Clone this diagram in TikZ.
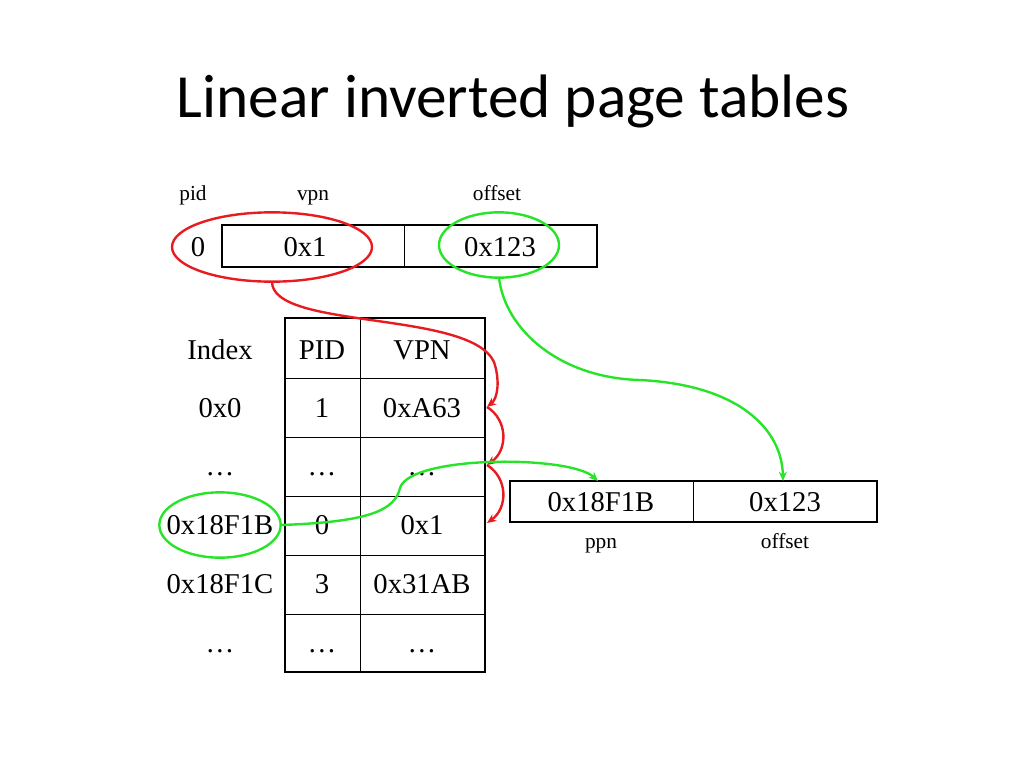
\documentclass[tikz,border=0pt]{standalone}
\usepackage{fontspec}
\setmainfont{Liberation Serif}
\newfontfamily\titlefont{Carlito}
\usetikzlibrary{shapes.geometric, arrows.meta}
\definecolor{ringred}{RGB}{232,28,32}
\definecolor{ringgreen}{RGB}{40,228,40}

\begin{document}
\begin{tikzpicture}[x=0.75pt, y=-0.75pt, >={Stealth[length=7pt, width=6pt]},
    lbl/.style={font=\fontsize{16}{18}\selectfont, text height=10.9pt, text depth=0pt},
    cell/.style={font=\fontsize{21.5}{24}\selectfont, text height=14.2pt, text depth=0pt},
    ring/.style={ellipse, draw, line width=1.8pt, outer sep=0pt, inner sep=0pt},
    redarrow/.style={draw=ringred, line width=1.8pt, ->},
    greenarrow/.style={draw=ringgreen, line width=1.8pt, ->}]
    \useasboundingbox (0,0) rectangle (1024,768);
    \node[font=\titlefont\fontsize{46}{52}\selectfont] (title) at (513,101) {Linear inverted page tables};

    % virtual address
    \draw[line width=1.6pt] (222,225) rectangle (597,267);
    \draw[line width=0.6pt] (404,225) -- (404,267);
    \node[lbl] (pidlbl) at (193,193) {pid};
    \node[lbl] (vpnlbl) at (313,193) {vpn};
    \node[lbl] (offlbl) at (497,193) {offset};
    \node[cell] (pidval) at (198,247) {0};
    \node[cell] (vpnval) at (305,247) {0x1};
    \node[cell] (offval) at (500,247) {0x123};

    % inverted table
    \draw[line width=0.6pt] (360,318) -- (360,672);
    \draw[line width=0.6pt] (285,378) -- (485,378);
    \draw[line width=0.6pt] (285,437) -- (485,437);
    \draw[line width=0.6pt] (285,496) -- (485,496);
    \draw[line width=0.6pt] (285,555) -- (485,555);
    \draw[line width=0.6pt] (285,614) -- (485,614);
    \draw[line width=1.6pt] (285,318) rectangle (485,672);
    \node[cell] (idxhead) at (220,350) {Index};
    \node[cell] (pidhead) at (322,350) {PID};
    \node[cell] (vpnhead) at (422,350) {VPN};
    \node[cell] (idx0) at (220,408) {0x0};
    \node[cell] (pid0) at (322,408) {1};
    \node[cell] (vpn0) at (422,408) {0xA63};
    \node[cell] (idx1) at (220,466) {\ldots};
    \node[cell] (pid1) at (322,466) {\ldots};
    \node[cell] (vpn1) at (422,466) {\ldots};
    \node[cell] (idx2) at (220,525) {0x18F1B};
    \node[cell] (pid2) at (322,525) {0};
    \node[cell] (vpn2) at (422,525) {0x1};
    \node[cell] (idx3) at (220,584) {0x18F1C};
    \node[cell] (pid3) at (322,584) {3};
    \node[cell] (vpn3) at (422,584) {0x31AB};
    \node[cell] (idx4) at (220,643) {\ldots};
    \node[cell] (pid4) at (322,643) {\ldots};
    \node[cell] (vpn4) at (422,643) {\ldots};

    % physical address
    \draw[line width=1.6pt] (510,481) rectangle (877,522);
    \draw[line width=0.6pt] (693,481) -- (693,522);
    \node[cell] (ppnval) at (601,502) {0x18F1B};
    \node[cell] (poffval) at (785,502) {0x123};
    \node[lbl] (ppnlbl) at (601,541) {ppn};
    \node[lbl] (pofflbl) at (785,541) {offset};

    % rings
    \node[ring, draw=ringred, minimum width=150pt, minimum height=52pt] (vpnring) at (272,247) {};
    \node[ring, draw=ringgreen, minimum width=90pt, minimum height=49pt] (offring) at (499,245) {};
    \node[ring, draw=ringgreen, minimum width=91pt, minimum height=49pt] (idxring) at (220,525) {};

    \coordinate (r0) at (487,407);
    \coordinate (r1) at (487,465);
    \coordinate (r2) at (487,523);
    \coordinate (ppntop) at (598,481);
    \coordinate (offtop) at (783,481);

    % search
    \draw[redarrow] (vpnring.south) .. controls (272,330) and (470,310) .. (494,362) .. controls (500,380) and (498,398) .. (r0);
    \draw[redarrow] (r0) .. controls (508,420) and (508,450) .. (r1);
    \draw[redarrow] (r1) .. controls (508,478) and (508,508) .. (r2);

    % translate
    \draw[greenarrow] (idxring.east) .. controls (370,522) and (395,510) .. (400,488) .. controls (410,455) and (570,455) .. (ppntop);
    \draw[greenarrow] (offring.south) .. controls (505,330) and (560,378) .. (640,380) .. controls (740,385) and (782,430) .. (offtop);
\end{tikzpicture}
\end{document}
